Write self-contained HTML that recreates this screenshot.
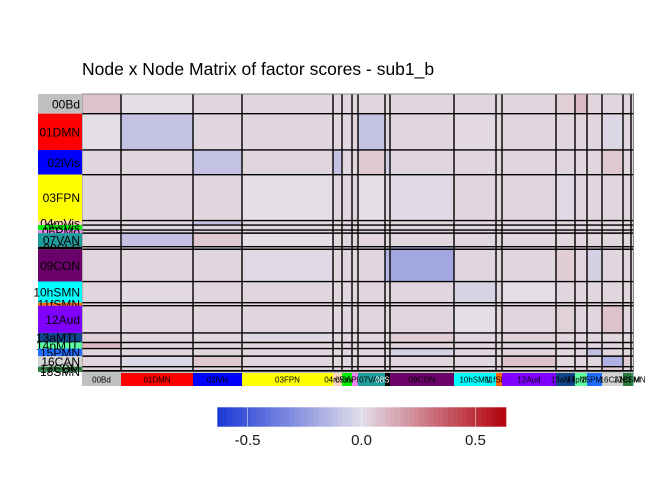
<!DOCTYPE html>
<html><head><meta charset="utf-8"><style>
body{margin:0;background:#fff;width:672px;height:480px;overflow:hidden;font-family:"Liberation Sans",sans-serif}
</style></head><body>
<svg width="672" height="480" xmlns="http://www.w3.org/2000/svg">
<text x="82" y="75" font-size="17.5" font-family="Liberation Sans, sans-serif">Node x Node Matrix of factor scores - sub1_b</text>
<g id="cells"></g>
<g id="lines"></g>
<g id="labels"></g>
<g id="legend"></g>
</svg>
<script>
const networks=["00Bd","01DMN","02lVis","03FPN","04mVis","05sVis","06PMo","07VAN","08SLC","09CON","10hSMN","11fSMN","12Aud","13aMTL","14pMTL","15PMN","16CAN","17CBM","18SMN"];
const sizes=[39,72,49,91,9,10,6,27,5,64,42,6,54,19,12,15,21,8,2.5];
const netColors=["#c0c0c0","#ff0000","#0000ff","#ffff00","#fdd5b8","#00ee00","#ee82ee","#1f9c9c","#000000","#6b006b","#00ffff","#ff6a00","#8000ff","#10468b","#5fffa0","#1e6fff","#d3d3d3","#2a7a3a","#2e8b57"];
const pairs=[[0,0,0.12],[0,1,0.0],[0,13,0.07],[0,14,0.15],[1,1,-0.15],[1,7,-0.15],[1,16,-0.05],[1,10,0.03],
[2,2,-0.15],[2,4,-0.15],[2,7,0.1],[2,8,-0.1],[2,16,0.1],[3,3,0.0],[3,9,-0.04],[3,13,-0.04],
[9,9,-0.26],[9,8,-0.2],[9,13,0.08],[9,15,-0.05],[10,10,-0.07],[10,12,-0.01],[12,16,0.12],[12,12,0.05],
[16,16,-0.22],[15,15,-0.16],[15,9,-0.08],[7,3,0.0],[7,7,0.05],[13,12,0.06],[16,17,0.09]];
const legendTicks=[-0.5,0,0.5];
const defVal=0.045;
const N=networks.length;
const M=[];for(let i=0;i<N;i++){M.push(new Array(N).fill(defVal));}
pairs.forEach(p=>{M[p[0]][p[1]]=p[2];M[p[1]][p[0]]=p[2];});
const X0=82,Y0=94,W=551.5,H=278,tot=sizes.reduce((a,b)=>a+b,0);
const xb=[X0],yb=[Y0];sizes.forEach(s=>{xb.push(xb[xb.length-1]+s/tot*W);yb.push(yb[yb.length-1]+s/tot*H);});
const VMAX=0.633;
function col(v){const lo=[26,55,214],mid=[228,222,230],hi=[178,0,11];
 let t=Math.min(1,Math.abs(v)/VMAX);t=Math.pow(t,1.25);const e=v<0?lo:hi;
 return `rgb(${mid.map((m,i)=>Math.round(m+(e[i]-m)*t)).join(',')})`;}
const NS="http://www.w3.org/2000/svg";
function mk(tag,attrs,parent){const e=document.createElementNS(NS,tag);for(const k in attrs)e.setAttribute(k,attrs[k]);parent.appendChild(e);return e;}
const gc=document.getElementById('cells'),gl=document.getElementById('lines'),gb=document.getElementById('labels'),gg=document.getElementById('legend');
for(let i=0;i<N;i++)for(let j=0;j<N;j++){
 const r=mk('rect',{x:xb[j],y:yb[i],width:xb[j+1]-xb[j],height:yb[i+1]-yb[i],fill:col(M[i][j]),stroke:'#999','stroke-width':0.6},gc);
 
 
}
for(let k=1;k<N;k++){
 const a=mk('line',{x1:xb[k],x2:xb[k],y1:Y0,y2:Y0+H,stroke:'#000','stroke-width':1.4},gl);
 
 
 const b=mk('line',{x1:X0,x2:X0+W,y1:yb[k],y2:yb[k],stroke:'#000','stroke-width':1.4},gl);
 
 
}
const fr=mk('rect',{x:X0,y:Y0,width:W,height:H,fill:'none',stroke:'#888','stroke-width':1},gl);


for(let i=0;i<N;i++){
 const r=mk('rect',{x:38,y:yb[i],width:44,height:yb[i+1]-yb[i],fill:netColors[i]},gb);
 
 
 const t=mk('text',{x:80,y:(yb[i]+yb[i+1])/2+4.5,'text-anchor':'end','font-size':12,fill:'#000'},gb);
 t.textContent=networks[i];
 
 
 const c=mk('rect',{x:xb[i],y:373,width:xb[i+1]-xb[i],height:13,fill:netColors[i]},gb);
 
 
 const ct=mk('text',{x:(xb[i]+xb[i+1])/2,y:382.5,'text-anchor':'middle','font-size':8,fill:i==8?'#fff':'#000'},gb);
 ct.textContent=networks[i];
 
 
}
const LX0=217.3,LX1=505.7,LY=407.3,LH=19.4;
const lx=v=>LX0+(v+VMAX)/(2*VMAX)*(LX1-LX0);
const steps=60;
function barCol(v){const lo=[26,55,214],mid=[226,221,233],hi=[178,0,11];
 const t=Math.min(1,Math.abs(v)/VMAX);const e=v<0?lo:hi;
 return `rgb(${mid.map((m,i)=>Math.round(m+(e[i]-m)*t)).join(',')})`;}
for(let s=0;s<steps;s++){const v=-VMAX+(s+0.5)/steps*2*VMAX;
 const r=mk('rect',{x:lx(-VMAX+s/steps*2*VMAX),y:LY,width:(LX1-LX0)/steps+0.6,height:LH,fill:barCol(v)},gg);
 
 }
legendTicks.forEach(v=>{
 const l=mk('line',{x1:lx(v),x2:lx(v),y1:LY,y2:LY+LH,stroke:'#fff','stroke-width':0.8,opacity:0.6},gg);
 
 
 const t=mk('text',{x:lx(v),y:445,'text-anchor':'middle','font-size':15,fill:'#1a1a1a'},gg);
 t.textContent=v.toFixed(1);
 
 
});
</script>
</body></html>
